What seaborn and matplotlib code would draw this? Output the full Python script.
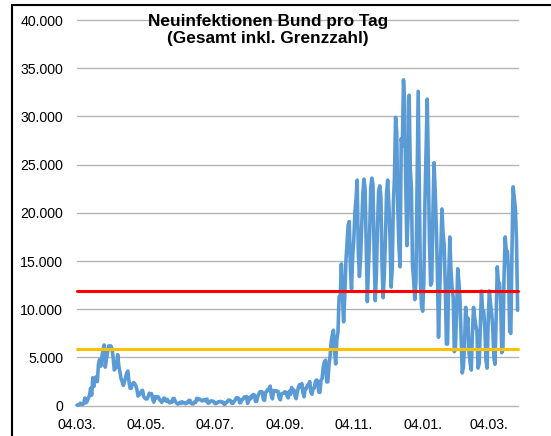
import matplotlib
matplotlib.use('Agg')
import matplotlib.pyplot as plt
import matplotlib.dates as mdates
from matplotlib.patches import Rectangle
from matplotlib.ticker import FuncFormatter
import pandas as pd
import seaborn as sns

# Daily reported new infections, one row per week (Wed..Tue), starting 04.03.2020
cases = [
    60, 45, 130, 260, 200, 130, 240,
    800, 300, 450, 800, 1000, 1800, 1100,
    2900, 2000, 2800, 3000, 2500, 4300, 4800,
    4100, 5000, 5800, 6300, 4000, 4800, 5500,
    6200, 6200, 6200, 5900, 5000, 3700, 3900,
    4000, 5300, 4100, 3500, 2800, 2500, 2100,
    2500, 2900, 3400, 3600, 2500, 1800, 1800,
    2200, 2400, 2300, 2100, 1700, 1000, 1100,
    1300, 1500, 1600, 950, 800, 700, 700,
    950, 1300, 1200, 1250, 670, 360, 930,
    800, 930, 910, 620, 580, 340, 510,
    800, 740, 460, 640, 430, 290, 430,
    360, 740, 740, 430, 290, 180, 210,
    340, 240, 410, 300, 300, 210, 350,
    300, 550, 550, 250, 200, 190, 380,
    340, 770, 600, 690, 660, 530, 500,
    590, 630, 480, 690, 260, 300, 470,
    500, 440, 450, 240, 220, 300, 400,
    400, 440, 380, 380, 160, 160, 350,
    400, 580, 580, 500, 250, 250, 450,
    570, 820, 800, 780, 300, 340, 630,
    680, 900, 870, 955, 240, 510, 880,
    740, 1045, 1150, 1120, 440, 440, 970,
    1230, 1450, 1450, 1420, 630, 560, 1390,
    1510, 1710, 1580, 2030, 1050, 710, 1580,
    1510, 1570, 1480, 1480, 780, 610, 1220,
    1260, 1310, 1450, 1380, 990, 810, 1500,
    1180, 1890, 1480, 1630, 1000, 730, 1410,
    1900, 2190, 1920, 2300, 1350, 920, 1770,
    1770, 2140, 2150, 2510, 1410, 1190, 1800,
    1800, 2500, 2670, 2560, 1410, 1380, 2640,
    2830, 4060, 4520, 4720, 2470, 2470, 4120,
    5130, 6640, 7330, 7830, 5590, 4330, 6870,
    7600, 11300, 11200, 14700, 11200, 8700, 11400,
    14900, 16800, 18700, 19100, 14200, 12100, 15400,
    17200, 19990, 21500, 23400, 16000, 13400, 15300,
    18500, 21900, 23500, 22500, 16900, 10800, 14400,
    17600, 22600, 23600, 22900, 15700, 10900, 13600,
    18600, 22300, 22800, 21700, 14600, 11200, 13600,
    17300, 22000, 23400, 21000, 17800, 12300, 14100,
    20800, 23700, 29900, 28400, 20200, 16400, 14400,
    27700, 26900, 33800, 31300, 22800, 16600, 19500,
    32200, 24700, 22500, 14500, 13000, 11000, 12900,
    22500, 32600, 22900, 12700, 10300, 9800, 12800,
    21200, 26400, 31800, 24700, 16900, 12500, 12800,
    19600, 25200, 22400, 18700, 13900, 7100, 11400,
    15900, 20400, 17900, 16700, 12300, 6400, 6400,
    13200, 17500, 14000, 12300, 11200, 5600, 6100,
    9700, 14200, 12900, 11000, 7100, 3400, 4000,
    6100, 10200, 8100, 9100, 5500, 4400, 3700,
    7500, 10200, 9100, 8300, 7700, 3900, 4400,
    8000, 11900, 9900, 9800, 8000, 4700, 3900,
    9000, 11900, 10600, 9600, 8100, 5000, 4300,
    9100, 14400, 12800, 12700, 10800, 5500, 5800,
    13400, 17500, 16000, 16000, 13700, 7700, 7500,
    15800, 22700, 21600, 20500, 17200, 9900,
]
start_date = '2020-03-04'
limit_red = 11860     # 100 per 100k per week
limit_orange = 5930   # 50 per 100k per week
tick_dates = ['2020-03-04', '2020-05-04', '2020-07-04', '2020-09-04',
              '2020-11-04', '2021-01-04', '2021-03-04']

df = pd.DataFrame({'date': pd.date_range(start_date, periods=len(cases), freq='D'),
                   'cases': cases})

sns.set_style('white')
plt.rcParams['font.family'] = ['Liberation Sans', 'DejaVu Sans']

fig = plt.figure(figsize=(5.51, 4.36), dpi=100)
ax = fig.add_axes([77 / 551, 1 - 405.7 / 436, 440.6 / 551, 385.7 / 436])

sns.lineplot(data=df, x='date', y='cases', ax=ax, color='#5B9BD5', lw=2.6, zorder=3)
ax.axhline(limit_red, color='#FF0000', lw=2.2, zorder=4)
ax.axhline(limit_orange, color='#FFC000', lw=2.2, zorder=4)

ax.set_xlim(df['date'].iloc[0], df['date'].iloc[-1])
ax.set_ylim(0, 40000)
ax.set_yticks(range(0, 40001, 5000))
ax.yaxis.set_major_formatter(FuncFormatter(lambda v, p: f'{v:,.0f}'.replace(',', '.')))
ax.set_xticks(pd.to_datetime(tick_dates))
ax.xaxis.set_major_formatter(mdates.DateFormatter('%d.%m.'))
ax.tick_params(axis='both', length=0, labelsize=10.2, colors='black')
ax.tick_params(axis='y', pad=10)
ax.tick_params(axis='x', pad=9)
ax.set_xlabel('')
ax.set_ylabel('')

for s in ax.spines.values():
    s.set_visible(False)
ax.yaxis.grid(True, color='#b4b4b4', lw=1)
ax.xaxis.grid(False)
for gl in ax.get_ygridlines():
    gl.set_clip_on(False)
for ln in ax.lines:
    ln.set_clip_on(False)

fig.text(268 / 551, 1 - 14 / 436, 'Neuinfektionen Bund pro Tag\n(Gesamt inkl. Grenzzahl)',
         ha='center', va='top', fontsize=12.4, fontweight='bold', linespacing=1.2,
         color='black')

fig.patches.append(Rectangle((11.7 / 551, -0.1), 1.2, 1.1 - 4.7 / 436, transform=fig.transFigure,
                             fill=False, edgecolor='black', lw=1.5))

fig.savefig('out.png', dpi=100)
